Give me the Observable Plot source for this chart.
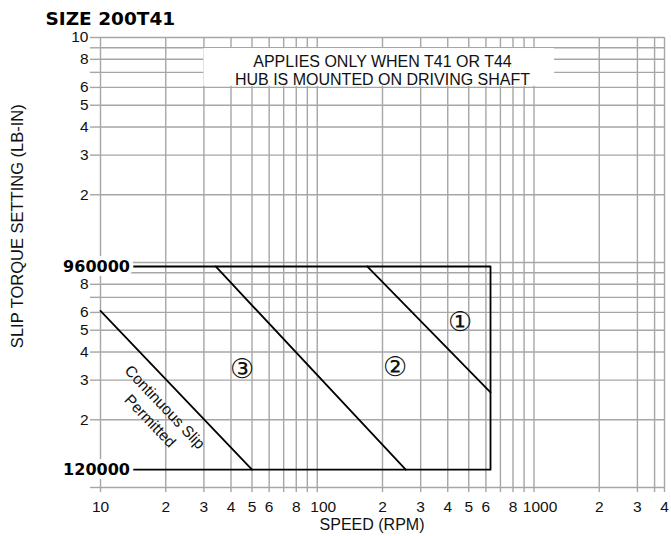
<!DOCTYPE html>
<html><head><meta charset="utf-8">
<script src="https://cdn.jsdelivr.net/npm/d3@7"></script>
<script src="https://cdn.jsdelivr.net/npm/@observablehq/plot@0.6"></script>
<style>
body{margin:0;background:#fff;}
#chart{width:671px;height:536px;}
</style></head><body><div id="chart"></div>
<script>
// ---- texts ----
const chartTitle = "SIZE 200T41";
const xAxisTitle = "SPEED (RPM)";
const yAxisTitle = "SLIP TORQUE SETTING (LB-IN)";
const noteText = "APPLIES ONLY WHEN T41 OR T44\nHUB IS MOUNTED ON DRIVING SHAFT";
const slipText = "Continuous Slip\nPermitted";

// ---- grid / ticks ----
const xGrid = [10,20,30,40,50,60,70,80,90,100,200,300,400,500,600,700,800,900,1000,2000,3000,3600,4000];
const xTickValues = [10,20,30,40,50,60,80,200,300,400,500,600,800,2000,3000,4000];
const xTickText   = ["10","2","3","4","5","6","8","2","3","4","5","6","8","2","3","4"];
const xDecadeValues = [100,1000];
const xDecadeText   = ["100","1000"];
const yGrid = [1e5,2e5,3e5,4e5,5e5,6e5,7e5,8e5,9e5,1e6,2e6,3e6,4e6,5e6,6e6,7e6,8e6,9e6,1e7];
const yTickValues = [1e7,8e6,6e6,5e6,4e6,3e6,2e6,8e5,6e5,5e5,4e5,3e5,2e5];
const yTickText   = ["10","8","6","5","4","3","2","8","6","5","4","3","2"];
const limitValues = [960000,120000];
const limitText   = ["960000","120000"];

// ---- series (speed rpm, torque lb-in) ----
const boundarySpeed  = [10,630,630,10];
const boundaryTorque = [960000,960000,120000,120000];
const line1Speed  = [170,630];
const line1Torque = [960000,265000];
const line2Speed  = [34,256];
const line2Torque = [960000,120000];
const line3Speed  = [10,50];
const line3Torque = [610000,120000];

// ---- annotations (data coordinates) ----
const zoneLabels = ["①","②","③"];
const zoneSpeed  = [455,228,44.8];
const zoneTorque = [543000,343000,334000];
const slipAt = {speed:18.5, torque:214000};
const noteAt = {speed:200, torque:7.13e6};
const noteBox = {x1:30, x2:1244, y1:6.07e6, y2:8.93e6};
const yTitleAt = 1.45e6;
const xTitleAt = 179;

const toPts = (xs, ys) => xs.map((x,i)=>({speed:x, torque:ys[i]}));
const boundary = toPts(boundarySpeed, boundaryTorque);
const lines = [toPts(line1Speed,line1Torque), toPts(line2Speed,line2Torque), toPts(line3Speed,line3Torque)];
const zones = zoneLabels.map((t,i)=>({t, speed:zoneSpeed[i], torque:zoneTorque[i]}));

const gridColor = "#a6a6a6";

const chart = Plot.plot({
  width: 671, height: 536,
  marginLeft: 100, marginRight: 7, marginTop: 37, marginBottom: 49,
  x: {type: "log", domain: [10, 4000], label: null},
  y: {type: "log", domain: [1e5, 1e7], label: null},
  style: {fontFamily: "'Liberation Sans', Arial, sans-serif", background: "white", color: "black", overflow: "visible"},
  marks: [
    Plot.gridX(xGrid, {stroke: gridColor, strokeOpacity: 1, strokeWidth: 1.4}),
    Plot.gridY(yGrid, {stroke: gridColor, strokeOpacity: 1, strokeWidth: 1.4}),
    Plot.axisX(xGrid, {tickSize: 5, tickFormat: () => "", stroke: gridColor, strokeWidth: 1.4, label: null}),
    Plot.axisY(yGrid, {tickSize: 10, tickFormat: () => "", stroke: gridColor, strokeWidth: 1.4, label: null}),
    Plot.rect([noteBox], {x1: "x1", x2: "x2", y1: "y1", y2: "y2", fill: "white"}),
    Plot.text([noteAt], {x: "speed", y: "torque", text: () => noteText, fontSize: 16, lineHeight: 1.13, textAnchor: "middle", fill: "#111"}),
    Plot.line(boundary, {x: "speed", y: "torque", stroke: "black", strokeWidth: 1.8}),
    ...lines.map(l => Plot.line(l, {x: "speed", y: "torque", stroke: "black", strokeWidth: 1.8})),
    Plot.text(zones, {x: "speed", y: "torque", text: "t", fontSize: 27, fontFamily: "DejaVu Sans", fontWeight: 200, fill: "#111"}),
    Plot.text([slipAt], {x: "speed", y: "torque", text: () => slipText, rotate: 46.5, fontSize: 15.5, lineHeight: 1.3, textAnchor: "middle", fill: "#111"}),
    // tick labels
    Plot.text(xTickValues, {x: d => d, text: (d,i) => xTickText[i], frameAnchor: "bottom", lineAnchor: "middle", dy: 20, fontSize: 15.5, fill: "#111"}),
    Plot.text(xDecadeValues, {x: d => d, text: (d,i) => xDecadeText[i], frameAnchor: "bottom", lineAnchor: "middle", dy: 20, dx: 6, fontSize: 15.5, fill: "#111"}),
    Plot.text(yTickValues, {y: d => d, text: (d,i) => yTickText[i], frameAnchor: "left", textAnchor: "end", lineAnchor: "middle", dx: -12, fontSize: 15.5, fill: "#111"}),
    Plot.text(limitValues, {y: d => d, text: (d,i) => limitText[i], frameAnchor: "left", textAnchor: "middle", lineAnchor: "middle", dx: -4, fontSize: 16, fontWeight: "bold", fontFamily: "DejaVu Sans", fill: "black", stroke: "white", strokeWidth: 8, paintOrder: "stroke"}),
    // titles
    Plot.text([xAxisTitle], {x: () => xTitleAt, text: d => d, frameAnchor: "bottom", lineAnchor: "middle", dy: 37, fontSize: 16, fill: "#111"}),
    Plot.text([yAxisTitle], {y: () => yTitleAt, text: d => d, frameAnchor: "left", textAnchor: "middle", lineAnchor: "middle", rotate: -90, dx: -83, fontSize: 16.5, fill: "#111"}),
    Plot.text([chartTitle], {text: d => d, frameAnchor: "top-left", textAnchor: "start", lineAnchor: "middle", dx: -55, dy: -18.5, fontSize: 18.5, fontWeight: "bold", fontFamily: "DejaVu Sans", fill: "black"})
  ]
});
document.getElementById("chart").appendChild(chart);
</script>
</body></html>
